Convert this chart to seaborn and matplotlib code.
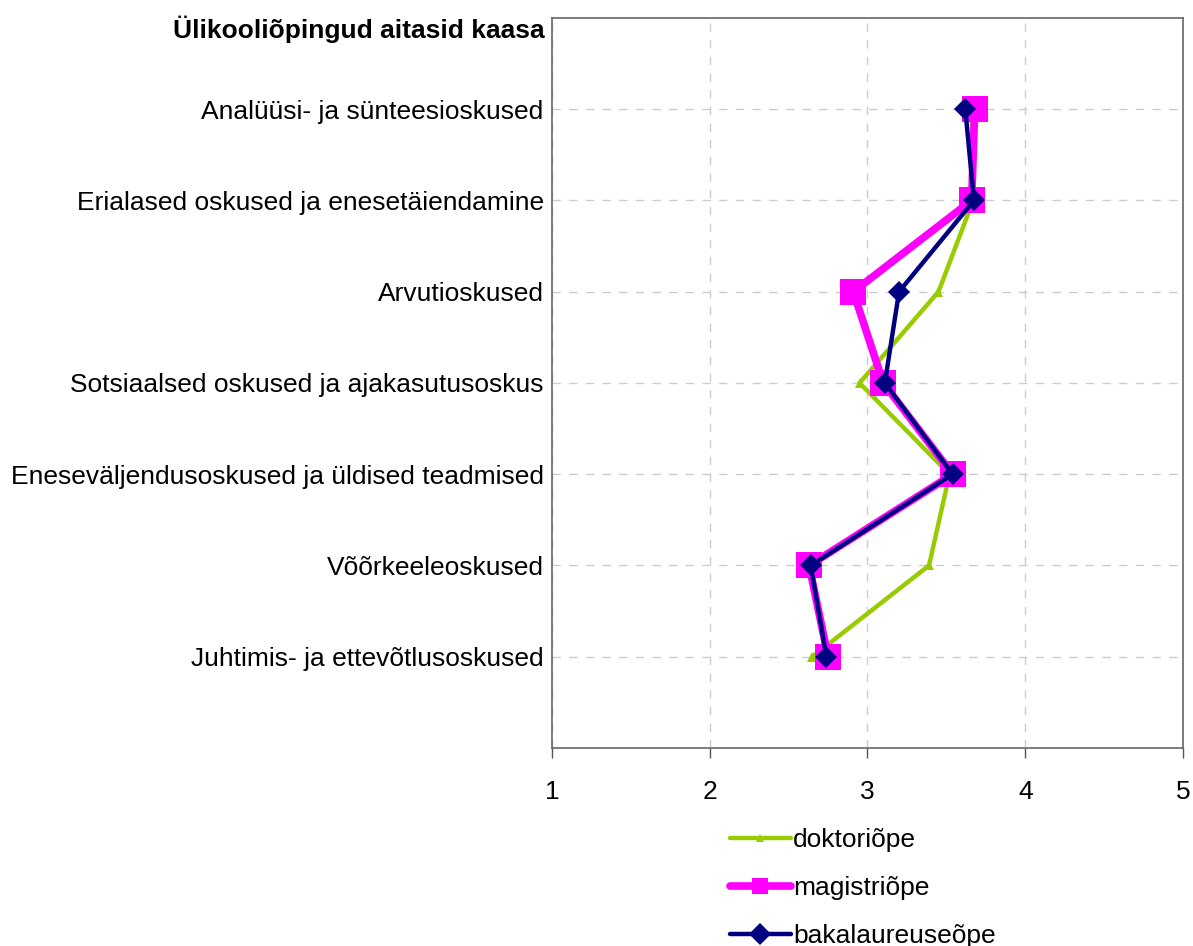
import pandas as pd
import matplotlib
matplotlib.use("Agg")
import matplotlib.pyplot as plt
import seaborn as sns

# Categories (top to bottom)
categories = [
    "Analüüsi- ja sünteesioskused",
    "Erialased oskused ja enesetäiendamine",
    "Arvutioskused",
    "Sotsiaalsed oskused ja ajakasutusoskus",
    "Eneseväljendusoskused ja üldised teadmised",
    "Võõrkeeleoskused",
    "Juhtimis- ja ettevõtlusoskused",
]
header = "Ülikooliõpingud aitasid kaasa"

# Mean scores per study level
doktori = [3.66, 3.67, 3.45, 2.95, 3.52, 3.39, 2.65]
magistri = [3.68, 3.66, 2.91, 3.10, 3.54, 2.63, 2.75]
bakalaureuse = [3.62, 3.675, 3.20, 3.11, 3.54, 2.64, 2.74]

series_names = ["doktoriõpe", "magistriõpe", "bakalaureuseõpe"]

sns.set_style("white")
plt.rcParams["font.family"] = ["Liberation Sans", "DejaVu Sans"]
plt.rcParams["text.color"] = "black"

pos = list(range(1, len(categories) + 1))
df = pd.DataFrame({"pos": pos, "doktori": doktori,
                   "magistri": magistri, "bakalaureuse": bakalaureuse})

fig, ax = plt.subplots(figsize=(11.93, 9.46), dpi=100)
fig.subplots_adjust(left=0.4627, right=0.9916, top=0.981, bottom=0.2093)

styles = [
    ("doktori", series_names[0], "#99CC00", "^", 3.2, 7),
    ("magistri", series_names[1], "#FF00FF", "s", 5.5, 19),
    ("bakalaureuse", series_names[2], "#000080", "D", 3.2, 11),
]
for col, name, color, marker, lw, ms in styles:
    sns.lineplot(data=df, x=col, y="pos", orient="y", sort=False,
                 color=color, marker=marker, linewidth=lw, markersize=ms,
                 markeredgewidth=0, label=name, ax=ax)

ax.set_xlim(1, 5)
ax.set_ylim(8, 0)
ax.set_xticks([1, 2, 3, 4, 5])
ax.set_yticks(pos)
ax.set_yticklabels(categories)
ax.set_xlabel("")
ax.set_ylabel("")
ax.tick_params(axis="x", labelsize=19, length=7, width=1, color="#555555",
               labelcolor="black", direction="out", bottom=True, pad=16)
ax.tick_params(axis="y", labelsize=19, length=0, pad=6, labelcolor="black")
ax.grid(True, linestyle=(0, (6, 6)), color="#cccccc", linewidth=1)
for s in ax.spines.values():
    s.set_color("#666666")
    s.set_linewidth(1.2)

ax.text(-0.011, 0.984, header, transform=ax.transAxes, color="black",
        ha="right", va="center", fontsize=19, fontweight="bold")

leg = ax.legend(loc="upper left", bbox_to_anchor=(0.282, -0.11),
                frameon=False, fontsize=19, handlelength=2.3,
                handletextpad=0.1, labelspacing=0.9, borderpad=0,
                borderaxespad=0)
for t in leg.get_texts():
    t.set_color("black")
for h, ms in zip(leg.legend_handles, [6, 12, 11]):
    h.set_markersize(ms)

fig.savefig("out.png", dpi=100)
